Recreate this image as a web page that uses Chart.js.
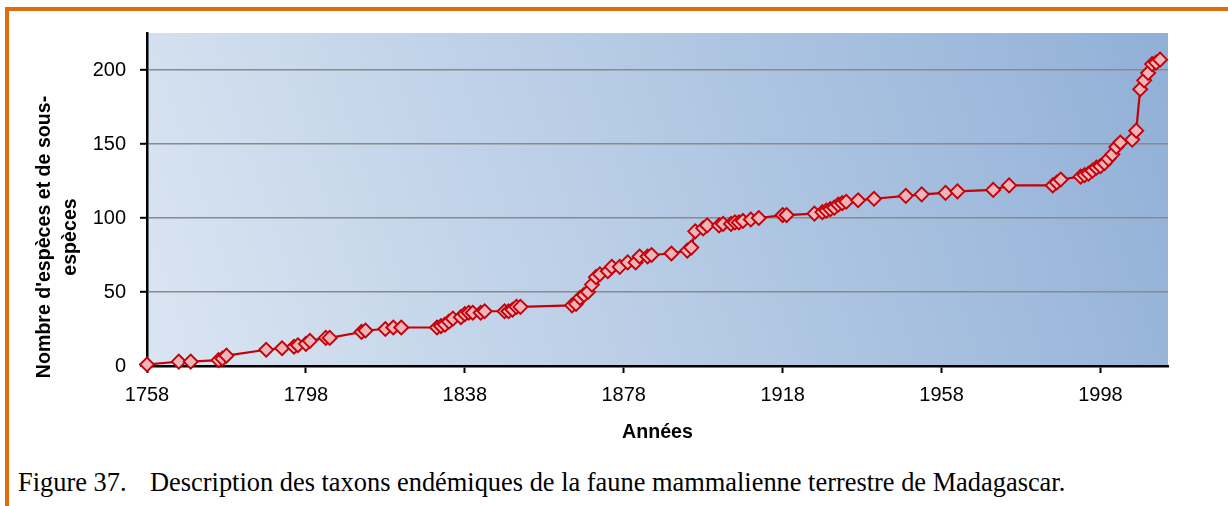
<!DOCTYPE html>
<html lang="fr">
<head>
<meta charset="utf-8">
<title>Taxons endémiques - Madagascar</title>
<script src="https://cdn.jsdelivr.net/npm/chart.js@4.4.1/dist/chart.umd.min.js"></script>
<style>
    html, body { margin: 0; padding: 0; background: #fff; }
    body { width: 1228px; height: 506px; position: relative; overflow: hidden; }
    .frame {
        position: absolute; left: 5px; top: 7px; width: 1300px; height: 600px;
        border-left: 4px solid #E36C0A; border-top: 4px solid #E36C0A;
    }
    .chart-box { position: absolute; left: 0; top: 0; width: 1228px; height: 450px; }
    .caption {
        position: absolute; left: 18px; top: 469px; white-space: nowrap;
        font-family: "Liberation Serif", "Times New Roman", serif; font-size: 26.4px; line-height: 26px; color: #000;
    }
    .caption .num { display: inline-block; width: 132px; }
</style>
</head>
<body>
<div class="frame"></div>
<div class="chart-box"><canvas id="chart"></canvas></div>
<div class="caption"><span class="num">Figure 37.</span>Description des taxons endémiques de la faune mammalienne terrestre de Madagascar.</div>

<script>
// Années de description et nombre cumulé d'espèces et sous-espèces
const years = [
    1758, 1766, 1769, 1776, 1777, 1778, 1788, 1792, 1795, 1796, 1798, 1799, 1803, 1804, 1812, 1813, 1818, 1820, 1822,
    1831, 1832, 1833, 1834, 1835, 1837, 1838, 1839, 1840, 1842, 1843, 1848, 1849, 1850, 1851, 1852,
    1865, 1866, 1867, 1868, 1869, 1870, 1871, 1872, 1874, 1875, 1877, 1879, 1881, 1882, 1884, 1885, 1890, 1894, 1895,
    1896, 1898, 1899, 1902, 1903, 1905, 1906, 1907, 1908, 1910, 1912, 1918, 1919,
    1926, 1928, 1929, 1930, 1931, 1932, 1933, 1934, 1937, 1941, 1949, 1953, 1959, 1962, 1971, 1975,
    1986, 1987, 1988, 1993, 1994, 1995, 1996, 1997, 1998, 1999, 2000, 2001, 2002, 2003, 2006, 2007, 2008, 2009, 2010, 2011, 2012, 2013
];
const counts = [
    1, 3, 3, 4, 5, 7, 11, 12, 13, 14, 15, 17, 19, 19, 23, 24, 25, 26, 26,
    26, 27, 28, 30, 32, 33, 35, 36, 36, 36, 37, 37, 37, 38, 40, 40,
    41, 42, 46, 48, 50, 55, 60, 62, 64, 67, 67, 70, 70, 74, 74, 75, 76, 78, 80,
    91, 93, 95, 95, 96, 96, 97, 97, 98, 99, 100, 102, 102,
    103, 104, 105, 106, 107, 109, 110, 111, 112, 113, 115, 116, 117, 118, 119, 122,
    122, 124, 126, 128, 129, 130, 132, 134, 135, 137, 140, 143, 148, 151, 153, 159, 187, 193, 198, 204, 205, 207
];
const xTicks = [1758, 1798, 1838, 1878, 1918, 1958, 1998];
const yTicks = [0, 50, 100, 150, 200];
const yTitleLines = ["Nombre d'espèces et de sous-", "espèces"];

Chart.defaults.font.family = "'Liberation Sans', Arial, sans-serif";
Chart.defaults.color = "#000";

// fond dégradé de la zone de tracé
const plotBackground = {
    id: "plotBackground",
    beforeDraw(chart) {
        const { ctx, chartArea: a } = chart;
        const g = ctx.createLinearGradient(a.left, a.bottom, a.right, a.top);
        g.addColorStop(0, "#DAE5F2");
        g.addColorStop(1, "#91B0D7");
        ctx.save();
        ctx.fillStyle = g;
        ctx.fillRect(a.left, a.top, a.right - a.left, a.bottom - a.top);
        ctx.restore();
    }
};

// titre vertical sur deux lignes
const yTitle = {
    id: "yTitle",
    afterDraw(chart) {
        const { ctx } = chart;
        ctx.save();
        ctx.font = "bold 19.6px 'Liberation Sans', Arial, sans-serif";
        ctx.fillStyle = "#000";
        ctx.textAlign = "center";
        ctx.textBaseline = "middle";
        const xs = [45, 71];
        yTitleLines.forEach((line, i) => {
            ctx.save();
            ctx.translate(xs[i], 237);
            ctx.rotate(-Math.PI / 2);
            ctx.fillText(line, 0, 0);
            ctx.restore();
        });
        ctx.restore();
    }
};

const points = years.map((y, i) => ({ x: y, y: counts[i] }));

new Chart(document.getElementById("chart"), {
    type: "scatter",
    data: {
        datasets: [{
            data: points,
            showLine: true,
            borderColor: "#C40008",
            borderWidth: 2.2,
            pointStyle: "rectRot",
            pointRadius: 7,
            pointBackgroundColor: "#EBB5B9",
            pointBorderColor: "#C40008",
            pointBorderWidth: 1.9,
            clip: false
        }]
    },
    options: {
        responsive: true,
        maintainAspectRatio: false,
        animation: false,
        layout: { padding: { top: 33, right: 60, left: 0, bottom: 0 } },
        plugins: { legend: { display: false }, tooltip: { enabled: false } },
        scales: {
            x: {
                type: "linear",
                min: 1758,
                max: 2015,
                afterBuildTicks: scale => { scale.ticks = xTicks.map(v => ({ value: v })); },
                afterFit: scale => { scale.height = 84; },
                ticks: {
                    autoSkip: false,
                    maxRotation: 0,
                    padding: 10,
                    font: { size: 20 },
                    callback: v => String(v)
                },
                grid: { drawOnChartArea: false, tickColor: "#000", tickLength: 7, tickWidth: 2 },
                border: { color: "#000", width: 2.5 },
                title: {
                    display: true,
                    text: "Années",
                    font: { size: 19.6, weight: "bold" },
                    padding: { top: 0, bottom: 6 }
                }
            },
            y: {
                min: 0,
                max: 225,
                afterBuildTicks: scale => { scale.ticks = yTicks.map(v => ({ value: v })); },
                afterFit: scale => { scale.width = 147; },
                ticks: { padding: 14, font: { size: 20 }, callback: v => String(v) },
                grid: {
                    color: c => (c.tick && c.tick.value === 0 ? "rgba(0,0,0,0)" : "#8A8A8A"),
                    lineWidth: 1.6,
                    tickColor: "#000",
                    tickLength: 7,
                    tickWidth: 2
                },
                border: { color: "#000", width: 2.5 }
            }
        }
    },
    plugins: [plotBackground, yTitle]
});
</script>
</body>
</html>
